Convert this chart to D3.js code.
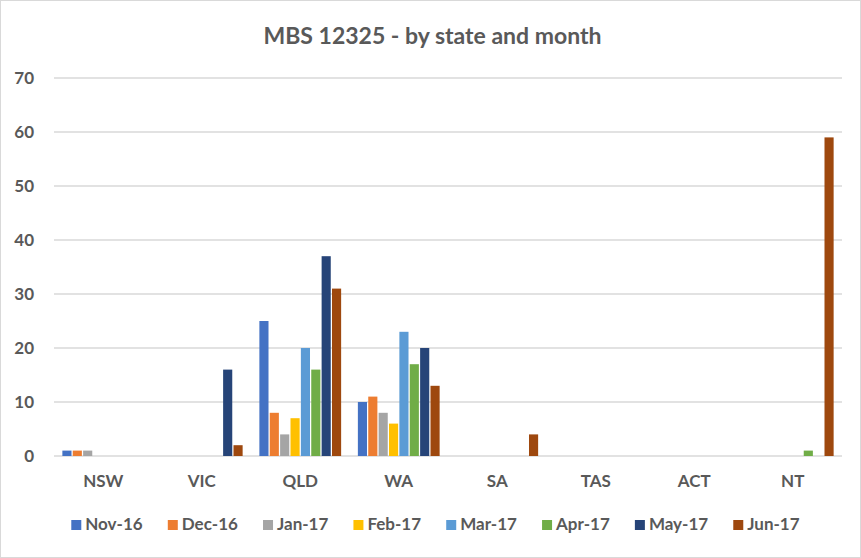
<!DOCTYPE html>
<html><head><meta charset="utf-8">
<script src="https://cdn.jsdelivr.net/npm/d3@7"></script>
<style>body{margin:0;background:#fff}svg{display:block}text{font-family:Lato,"Open Sans",sans-serif}</style>
</head><body><svg id="c" width="861" height="558"></svg>
<script>
const states = ["NSW","VIC","QLD","WA","SA","TAS","ACT","NT"];
const months = ["Nov-16","Dec-16","Jan-17","Feb-17","Mar-17","Apr-17","May-17","Jun-17"];
const colors = ["#4472C4","#ED7D31","#A5A5A5","#FFC000","#5B9BD5","#70AD47","#264478","#9E480E"];
const nov16 = [1,0,25,10,0,0,0,0];
const dec16 = [1,0,8,11,0,0,0,0];
const jan17 = [1,0,4,8,0,0,0,0];
const feb17 = [0,0,7,6,0,0,0,0];
const mar17 = [0,0,20,23,0,0,0,0];
const apr17 = [0,0,16,17,0,0,0,1];
const may17 = [0,16,37,20,0,0,0,0];
const jun17 = [0,2,31,13,4,0,0,59];
const yTicks = [0,10,20,30,40,50,60,70];
const series = [nov16,dec16,jan17,feb17,mar17,apr17,may17,jun17];

const svg = d3.select("#c");
const W = 861, H = 558;
const m = {l:54, r:19, t:78, b:102};
svg.append("rect").attr("x",0.5).attr("y",0.5).attr("width",W-1).attr("height",H-1)
  .attr("fill","#fff").attr("stroke","#d9d9d9");

const x = d3.scaleBand().domain(states).range([m.l, W-m.r]).paddingInner(0.17).paddingOuter(0.085);
const xi = d3.scaleBand().domain(months).range([0, x.bandwidth()]).paddingInner(0.12);
const y = d3.scaleLinear().domain([0,70]).range([H-m.b, m.t]);

svg.append("text").attr("x",W/2+2).attr("y",44).attr("text-anchor","middle")
  .attr("font-size",23).attr("font-weight",700).attr("fill","#595959").text("MBS 12325 - by state and month");

const g = svg.append("g");
g.selectAll("line.grid").data(yTicks).join("line").attr("class","grid")
  .attr("x1",m.l).attr("x2",W-m.r).attr("y1",d=>y(d)).attr("y2",d=>y(d))
  .attr("stroke","#d9d9d9").attr("stroke-width",1.5);

const yAxis = d3.axisLeft(y).tickValues(yTicks).tickSize(0).tickPadding(0);
const ya = svg.append("g").attr("transform",`translate(34,0)`).call(yAxis);
ya.select(".domain").remove();
ya.selectAll("text").attr("font-size",17).attr("font-weight",700).attr("fill","#595959").attr("font-family","Lato");

const xAxis = d3.axisBottom(x).tickSize(0).tickPadding(0);
const xa = svg.append("g").attr("transform",`translate(0,${H-m.b+31})`).call(xAxis);
xa.select(".domain").remove();
xa.selectAll("text").attr("font-size",17).attr("font-weight",700).attr("fill","#595959").attr("font-family","Lato").attr("dy","0");

series.forEach((s,i)=>{
  g.selectAll(null).data(s.map((v,j)=>({v,st:states[j]})).filter(d=>d.v>0)).join("rect")
    .attr("x",d=>x(d.st)+xi(months[i])).attr("width",xi.bandwidth())
    .attr("y",d=>y(d.v)).attr("height",d=>y(0)-y(d.v)).attr("fill",colors[i]);
});

// legend
const lg = svg.append("g");
const items = lg.selectAll("g").data(months).join("g");
items.append("rect").attr("width",10).attr("height",10).attr("y",-10).attr("fill",(d,i)=>colors[i]);
items.append("text").attr("x",14).attr("y",0).attr("font-size",17).attr("font-weight",700).attr("fill","#595959").text(d=>d);
let cx = 0; const gap = 25;
items.each(function(){ const w = this.getBBox().width; d3.select(this).attr("data-x",cx); cx += w + gap; });
const total = cx - gap;
const start = (W - total)/2 + 5;
items.attr("transform",function(){ return `translate(${start + +d3.select(this).attr("data-x")},530)`; });
</script></body></html>
